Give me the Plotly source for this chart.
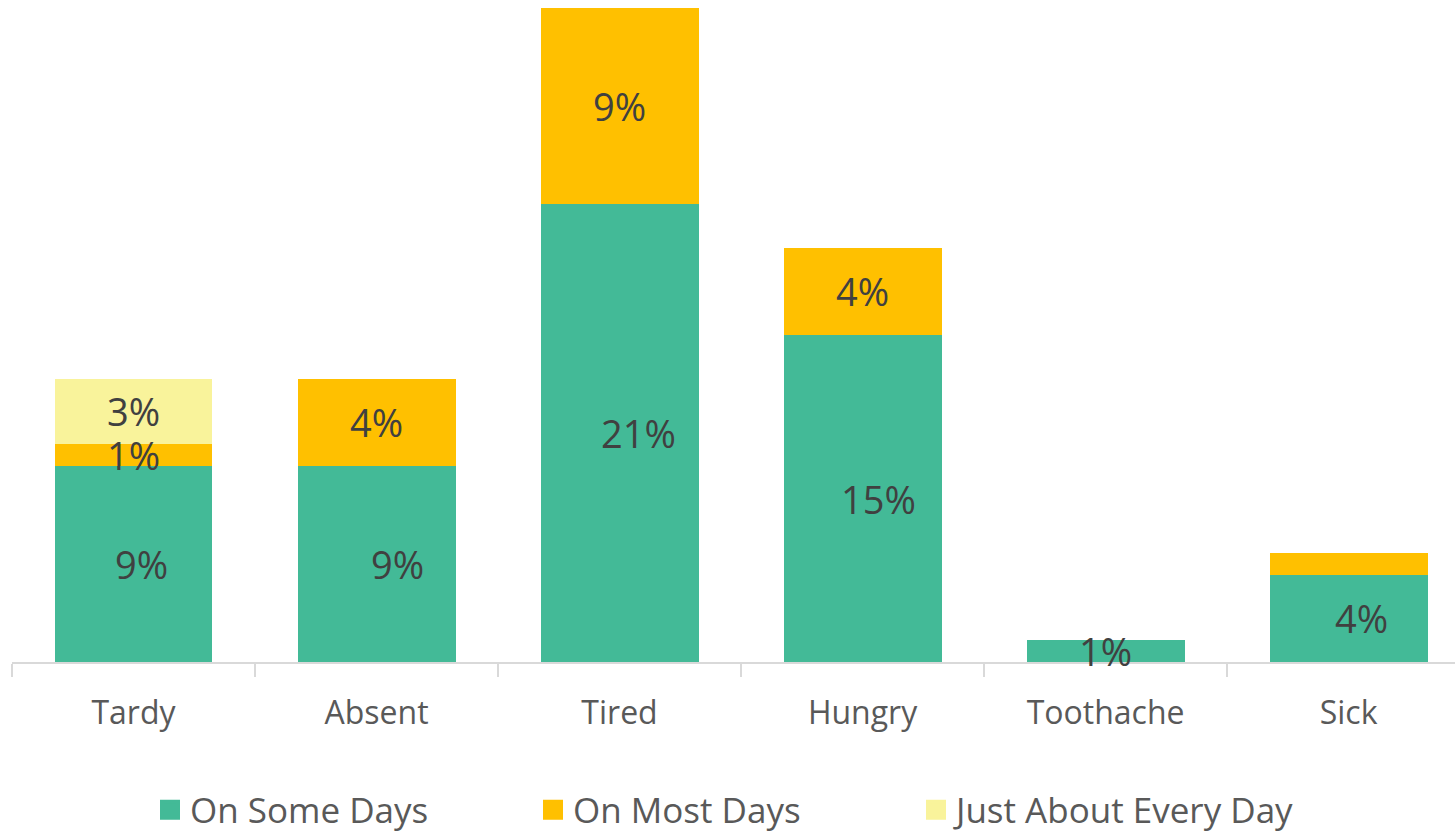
import plotly.graph_objects as go

# Share of students reporting each issue, by frequency (percent)
categories = ["Tardy", "Absent", "Tired", "Hungry", "Toothache", "Sick"]
some_days = [9, 9, 21, 15, 1, 4]
most_days = [1, 4, 9, 4, 0, 1]
every_day = [3, 0, 0, 0, 0, 0]
series_names = ["On Some Days", "On Most Days", "Just About Every Day"]

# Segments that carry no data label
unlabeled = {("On Most Days", "Sick")}

colors = ["#43BA97", "#FFC000", "#F9F39B"]
FONT = "Open Sans"
series = [some_days, most_days, every_day]

# Horizontal nudge (px) for the "On Some Days" labels
some_days_label_nudge = [8, 21, 19, 16, 0, 13]

fig = go.Figure()
for name, vals, col in zip(series_names, series, colors):
    fig.add_trace(go.Bar(
        x=categories, y=vals, name=name, marker_color=col,
        marker_line_width=0, width=0.65, showlegend=False,
        hoverinfo="skip",
    ))
    # larger square swatch for the legend entry
    fig.add_trace(go.Scatter(
        x=[None], y=[None], mode="markers", name=name,
        marker=dict(symbol="square", size=22, color=col,
                    line=dict(width=4, color=col)),
    ))

# Data labels centred in each stacked segment
annotations = []
base = [0] * len(categories)
for s, (name, vals) in enumerate(zip(series_names, series)):
    for i, (cat, v) in enumerate(zip(categories, vals)):
        if v > 0 and (name, cat) not in unlabeled:
            annotations.append(dict(
                x=cat, y=base[i] + v / 2, text=f"{v}%", showarrow=False,
                font=dict(family=FONT, size=38, color="#404040"),
                xref="x", yref="y",
                xshift=some_days_label_nudge[i] if s == 0 else 0,
            ))
        base[i] += v

fig.update_layout(
    barmode="stack",
    width=1455, height=833,
    margin=dict(l=12, r=0, t=0, b=171, autoexpand=False),
    paper_bgcolor="white", plot_bgcolor="white",
    annotations=annotations,
    legend=dict(
        orientation="h", xref="container", yref="container",
        x=150 / 1455, xanchor="left", y=1 - 810 / 833, yanchor="middle",
        font=dict(family=FONT, size=35, color="#595959"),
        itemsizing="trace", traceorder="normal",
        entrywidth=338, entrywidthmode="pixels",
    ),
    xaxis=dict(
        range=[-0.5, 5.438], showline=True, linecolor="#D9D9D9", linewidth=1.5,
        ticks="outside", tickson="boundaries", ticklen=13, tickcolor="#D9D9D9",
        tickwidth=1.5, showgrid=False, zeroline=False, automargin=False,
        tickfont=dict(family=FONT, size=32, color="#595959"),
        ticklabelstandoff=22,
    ),
    yaxis=dict(range=[0, 30.37], visible=False, showgrid=False, zeroline=False),
)

fig.write_html("out.html")
